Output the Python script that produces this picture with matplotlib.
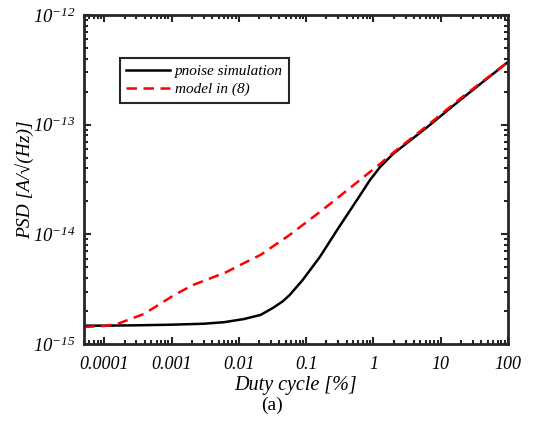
import numpy as np
import matplotlib
matplotlib.use("Agg")
import matplotlib.pyplot as plt
from matplotlib.ticker import FixedLocator, LogLocator, NullFormatter

plt.rcParams["font.family"] = ["Liberation Serif", "DejaVu Serif"]
plt.rcParams["mathtext.fontset"] = "custom"
# digits in mathtext always come from the rm font, so make that one italic too
plt.rcParams["mathtext.rm"] = "Liberation Serif:italic"
plt.rcParams["mathtext.it"] = "Liberation Serif:italic"

# duty cycle [%] vs. noise PSD [A/sqrt(Hz)]
duty_sim = [5e-5, 1e-4, 3e-4, 1e-3, 3e-3, 0.006, 0.012, 0.021, 0.032, 0.045, 0.057,
            0.089, 0.16, 0.29, 0.57, 0.89, 1.26, 1.95, 6.3, 19.5, 100]
psd_sim = [1.47e-15, 1.47e-15, 1.48e-15, 1.50e-15, 1.53e-15, 1.58e-15, 1.69e-15, 1.84e-15,
           2.13e-15, 2.45e-15, 2.8e-15, 3.84e-15, 6.22e-15, 1.10e-14, 2.06e-14, 3.13e-14,
           4.12e-14, 5.4e-14, 9.5e-14, 1.68e-13, 3.73e-13]

duty_model = [5e-5, 1e-4, 1.55e-4, 3.9e-4, 1.1e-3, 2.1e-3, 3.9e-3, 6.6e-3, 0.012, 0.021,
              0.057, 0.16, 0.45, 1.26, 2.0, 6.3, 19.5, 100]
psd_model = [1.43e-15, 1.46e-15, 1.52e-15, 1.88e-15, 2.8e-15, 3.46e-15, 4.0e-15, 4.54e-15,
             5.48e-15, 6.49e-15, 9.88e-15, 1.6e-14, 2.65e-14, 4.4e-14, 5.6e-14, 9.8e-14,
             1.73e-13, 3.73e-13]

xticks = [1e-4, 1e-3, 1e-2, 1e-1, 1, 10, 100]
xticklabels = ["0.0001", "0.001", "0.01", "0.1", "1", "10", "100"]
yticks = [1e-15, 1e-14, 1e-13, 1e-12]
yticklabels = [r"$10^{-15}$", r"$10^{-14}$", r"$10^{-13}$", r"$10^{-12}$"]

fig = plt.figure(figsize=(5.33, 4.24), dpi=100)
ax = fig.add_axes([0.1576, 0.1887, 0.7955, 0.7759])

ax.plot(duty_sim, psd_sim, "-", color="k", lw=1.8, label="pnoise simulation")
ax.plot(duty_model, psd_model, "--", color=(1, 0, 0), lw=1.8, dashes=(4.2, 2.6),
        label="model in (8)")

ax.set_xscale("log")
ax.set_yscale("log")
ax.set_xlim(5e-5, 100)
ax.set_ylim(1e-15, 1e-12)

ax.xaxis.set_major_locator(FixedLocator(xticks))
ax.set_xticklabels(xticklabels, fontstyle="italic", fontsize=13)
ax.xaxis.set_minor_locator(LogLocator(base=10, subs=np.arange(2, 10), numticks=20))
ax.xaxis.set_minor_formatter(NullFormatter())
ax.yaxis.set_major_locator(FixedLocator(yticks))
ax.set_yticklabels(yticklabels, fontsize=13.5)
ax.yaxis.set_minor_locator(LogLocator(base=10, subs=np.arange(2, 10), numticks=20))
ax.yaxis.set_minor_formatter(NullFormatter())

edge = "#262626"
for s in ax.spines.values():
    s.set_linewidth(2.0)
    s.set_color(edge)
ax.tick_params(which="both", direction="in", top=True, right=True, color=edge, width=1.5)
ax.tick_params(which="major", length=5)
ax.tick_params(which="minor", length=3)
ax.tick_params(axis="x", which="major", pad=9)
ax.tick_params(axis="y", which="major", pad=6)

ax.set_xlabel("Duty cycle [%]", fontstyle="italic", fontsize=14.5, labelpad=2)
ax.set_ylabel("PSD [A/\u221a(Hz)]", fontstyle="italic", fontsize=14, labelpad=-1)
fig.text(0.511, 0.044, "(a)", ha="center", va="center", fontsize=14)

leg = ax.legend(loc="upper left", bbox_to_anchor=(0.067, 0.892),
                prop={"style": "italic", "size": 11}, fancybox=False, framealpha=1,
                handlelength=2.9, handletextpad=0.3, borderpad=0.4, labelspacing=0.3)
leg.get_frame().set_edgecolor(edge)
leg.get_frame().set_linewidth(1.5)

fig.savefig("out.png", dpi=100)
